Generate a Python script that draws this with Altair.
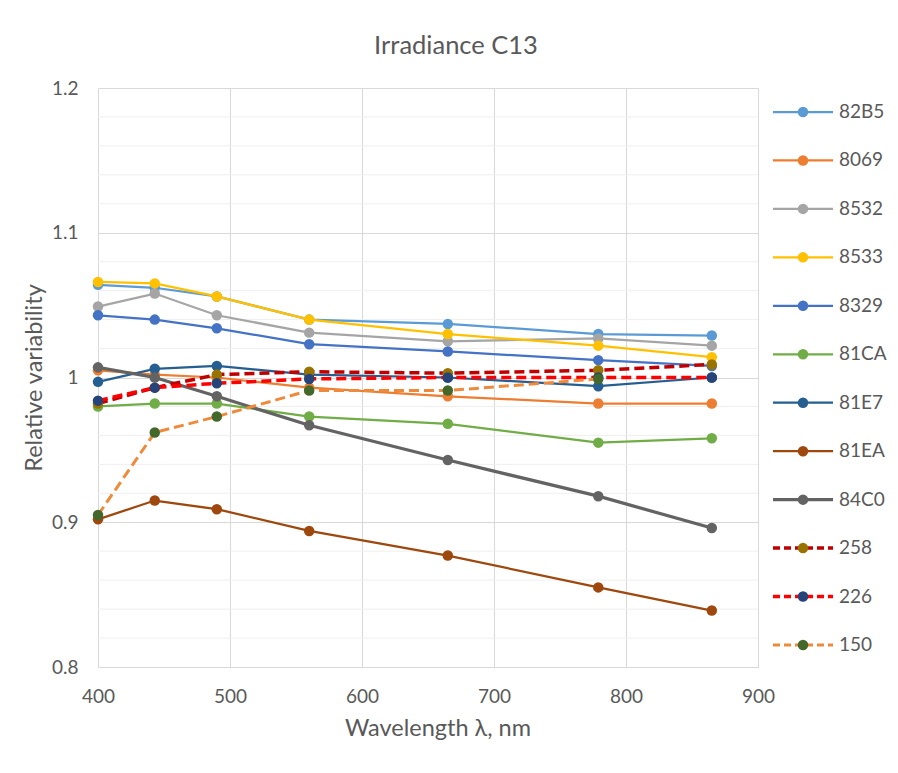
import altair as alt
import pandas as pd

# ---------------- data ----------------
wavelengths = [400, 443, 490, 560, 665, 779, 865]

series_names = ["82B5", "8069", "8532", "8533", "8329", "81CA",
                "81E7", "81EA", "84C0", "258", "226", "150"]

v_82B5 = [1.064, 1.062, 1.056, 1.040, 1.037, 1.030, 1.029]
v_8069 = [1.005, 1.002, 1.000, 0.993, 0.987, 0.982, 0.982]
v_8532 = [1.049, 1.058, 1.043, 1.031, 1.025, 1.027, 1.022]
v_8533 = [1.066, 1.065, 1.056, 1.040, 1.030, 1.022, 1.014]
v_8329 = [1.043, 1.040, 1.034, 1.023, 1.018, 1.012, 1.008]
v_81CA = [0.980, 0.982, 0.982, 0.973, 0.968, 0.955, 0.958]
v_81E7 = [0.997, 1.006, 1.008, 1.002, 1.000, 0.994, 1.000]
v_81EA = [0.902, 0.915, 0.909, 0.894, 0.877, 0.855, 0.839]
v_84C0 = [1.007, 1.000, 0.987, 0.967, 0.943, 0.918, 0.896]
v_258 = [0.982, 0.993, 1.002, 1.004, 1.003, 1.005, 1.009]
v_226 = [0.984, 0.993, 0.996, 0.999, 1.000, 1.000, 1.000]
v_150 = [0.905, 0.962, 0.973, 0.991, 0.991, 0.999, None]

series_values = [v_82B5, v_8069, v_8532, v_8533, v_8329, v_81CA,
                 v_81E7, v_81EA, v_84C0, v_258, v_226, v_150]

x_ticks = [400, 500, 600, 700, 800, 900]
y_ticks = [0.8, 0.9, 1.0, 1.1, 1.2]
y_minor = [0.82, 0.84, 0.86, 0.88, 0.92, 0.94, 0.96, 0.98,
           1.02, 1.04, 1.06, 1.08, 1.12, 1.14, 1.16, 1.18]

# ---------------- styles ----------------
line_colors = ["#5B9BD5", "#ED7D31", "#A5A5A5", "#FFC000", "#4472C4", "#70AD47",
               "#255E91", "#9E480E", "#636363", "#C00000", "#FF0000", "#F08A3B"]
marker_colors = ["#5B9BD5", "#ED7D31", "#A5A5A5", "#FFC000", "#4472C4", "#70AD47",
                 "#255E91", "#9E480E", "#636363", "#997300", "#264478", "#43682B"]
line_widths = [2.25] * 8 + [3.25, 3.5, 3.5, 3.0]
dashed = [False] * 9 + [True, True, True]

FONT = "Lato"
TXT = "#595959"
W, H = 660, 579

rows = []
for name, vals in zip(series_names, series_values):
    for wl, v in zip(wavelengths, vals):
        if v is not None:
            rows.append({"series": name, "wl": wl, "v": v})
long_df = pd.DataFrame(rows)

x_scale = alt.Scale(domain=[400, 900], nice=False, zero=False)
y_scale = alt.Scale(domain=[0.8, 1.2], nice=False, zero=False)

x_axis = alt.Axis(values=x_ticks, format="d", grid=True, gridColor="#D9D9D9",
                  domain=False, ticks=False, tickSize=0, labelPadding=20,
                  labelFlush=False,
                  labelFont=FONT, labelFontSize=19, labelColor=TXT,
                  title="Wavelength λ, nm", titleFont=FONT, titleFontSize=23.5,
                  titleFontWeight="normal", titleColor=TXT,
                  titleBaseline="alphabetic", titleX=339.5, titleY=68)
y_axis = alt.Axis(values=y_ticks, format="~g", grid=True, gridColor="#D9D9D9",
                  domain=False, ticks=False, tickSize=0, labelPadding=20,
                  labelFlush=False,
                  labelFont=FONT, labelFontSize=19, labelColor=TXT,
                  title="Relative variability", titleFont=FONT, titleFontSize=23.5,
                  titleFontWeight="normal", titleColor=TXT,
                  titleBaseline="alphabetic", titleAngle=270,
                  titleX=-57, titleY=H / 2)


def xe(field):
    return alt.X(f"{field}:Q", scale=x_scale, axis=x_axis)


def ye(field):
    return alt.Y(f"{field}:Q", scale=y_scale, axis=y_axis)


minor = alt.Chart(pd.DataFrame({"g": y_minor})).mark_rule(
    color="#EFEFEF", strokeWidth=1).encode(y=ye("g"))

plot_layers = [minor]
for i, name in enumerate(series_names):
    d = long_df[long_df["series"] == name]
    kw = dict(color=line_colors[i], strokeWidth=line_widths[i])
    if dashed[i]:
        kw["strokeDash"] = [10, 5]
    plot_layers.append(alt.Chart(d).mark_line(**kw).encode(x=xe("wl"), y=ye("v")))
    plot_layers.append(alt.Chart(d).mark_circle(
        color=marker_colors[i], size=110, opacity=1).encode(x=xe("wl"), y=ye("v")))

plot = alt.layer(*plot_layers)

# ---------------- legend (own scales) ----------------
leg_df = pd.DataFrame({
    "name": series_names,
    "lc": line_colors,
    "mc": marker_colors,
    "lw": line_widths,
    "dash": dashed,
})
lx = alt.Scale(domain=[0, 1], range=[675, 735])
ly = alt.Scale(type="point", domain=series_names, range=[24, 557], padding=0)
leg_y = alt.Y("name:N", scale=ly, axis=None)

leg_solid = alt.Chart(leg_df[~leg_df["dash"]]).mark_rule().encode(
    x=alt.XDatum(0, scale=lx, axis=None, type="quantitative"),
    x2=alt.X2Datum(1),
    y=leg_y,
    color=alt.Color("lc:N", scale=None),
    strokeWidth=alt.StrokeWidth("lw:Q", scale=None),
)
leg_dashed = alt.Chart(leg_df[leg_df["dash"]]).mark_rule(strokeDash=[7, 4]).encode(
    x=alt.XDatum(0, scale=lx, axis=None, type="quantitative"),
    x2=alt.X2Datum(1),
    y=leg_y,
    color=alt.Color("lc:N", scale=None),
    strokeWidth=alt.StrokeWidth("lw:Q", scale=None),
)
leg_pts = alt.Chart(leg_df).mark_circle(size=110, opacity=1).encode(
    x=alt.XDatum(0.5, scale=lx, axis=None, type="quantitative"),
    y=leg_y,
    color=alt.Color("mc:N", scale=None),
)
leg_txt = alt.Chart(leg_df).mark_text(
    align="left", baseline="middle", font=FONT, fontSize=19, color=TXT).encode(
    x=alt.XDatum(1.1, scale=lx, axis=None, type="quantitative"),
    y=leg_y,
    text="name:N",
)
legend = alt.layer(leg_solid, leg_dashed, leg_pts, leg_txt)

chart = alt.layer(plot, legend).resolve_scale(
    x="independent", y="independent"
).properties(
    width=W,
    height=H,
    title=alt.TitleParams("Irradiance C13", font=FONT, fontSize=25.5,
                          fontWeight="normal", color=TXT, anchor="middle",
                          frame="group", dx=28, offset=0, baseline="alphabetic"),
    autosize=alt.AutoSizeParams(type="none"),
    padding={"left": 90, "top": 80, "right": 130, "bottom": 86},
    background="white",
).configure_view(strokeWidth=0)

chart.save("out.html", embed_options={"renderer": "svg", "actions": False})
